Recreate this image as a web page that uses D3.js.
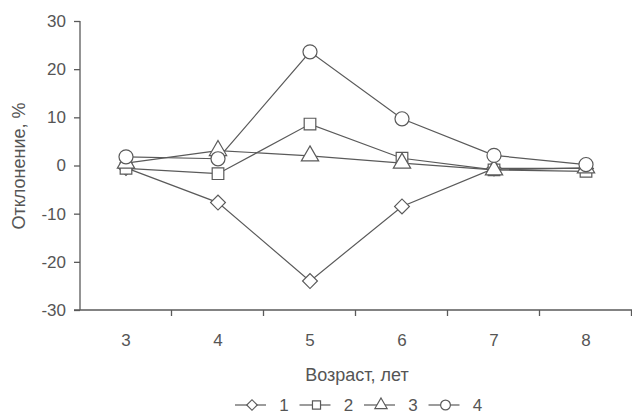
<!DOCTYPE html>
<html>
<head>
<meta charset="utf-8">
<script src="https://cdn.jsdelivr.net/npm/d3@7/dist/d3.min.js"></script>
<style>
  body { margin: 0; background: #fff; }
  svg text { font-family: "Liberation Sans", Arial, sans-serif; fill: #555; }
</style>
</head>
<body>
<div id="chart"></div>
<script>
var ages = ["3", "4", "5", "6", "7", "8"];
var yTicks = [-30, -20, -10, 0, 10, 20, 30];
var series1 = [-0.5, -7.7, -24.0, -8.5, -0.6, -0.6];
var series2 = [-0.6, -1.7, 8.6, 1.5, -0.9, -1.2];
var series3 = [0.5, 3.1, 2.0, 0.5, -0.9, -0.5];
var series4 = [1.8, 1.4, 23.6, 9.7, 2.1, 0.2];
var seriesNames = ["1", "2", "3", "4"];
// diamond = square turned 45 degrees
var symbols = [d3.symbolSquare, d3.symbolSquare, d3.symbolTriangle, d3.symbolCircle];
var turns = [45, 0, 0, 0];

var w = 632, h = 418;
var plotL = 80, plotR = 632, plotT = 21, plotB = 310;
var col = "#5a5a5a";

var svg = d3.select("#chart").append("svg")
    .attr("width", w)
    .attr("height", h);

var x = d3.scaleBand().domain(ages).range([plotL, plotR]);
var y = d3.scaleLinear().domain([-30, 30]).range([plotB, plotT]);

// y axis
var yAxis = svg.append("g")
    .attr("transform", "translate(" + plotL + ",0)")
    .call(d3.axisLeft(y).tickValues(yTicks).tickSize(6).tickPadding(8)
      .tickFormat(function(d) { return String(d); }));
yAxis.selectAll("text").style("font-size", "17px");

// x axis, ticks on band edges
var xAxis = svg.append("g")
    .attr("transform", "translate(0," + plotB + ")")
    .call(d3.axisBottom(x).tickSize(0).tickPadding(24));
xAxis.selectAll("text").style("font-size", "17px");
var edges = ages.map(function(a) { return x(a); }).concat([plotR]);
xAxis.selectAll("line.edge")
    .data(edges.slice(1))
    .enter().append("line")
    .attr("class", "edge")
    .attr("x1", function(d) { return d - 0.5; })
    .attr("x2", function(d) { return d - 0.5; })
    .attr("y1", 0).attr("y2", 6);

svg.selectAll(".domain, .tick line, line.edge")
    .attr("stroke", col)
    .attr("stroke-width", 1.3);
svg.selectAll(".domain").attr("d", null);
yAxis.append("line").attr("x1", 0).attr("x2", 0).attr("y1", plotT).attr("y2", plotB)
    .attr("stroke", col).attr("stroke-width", 1.3);
xAxis.append("line").attr("x1", plotL - 6).attr("x2", plotR).attr("y1", 0).attr("y2", 0)
    .attr("stroke", col).attr("stroke-width", 1.3);

// titles
svg.append("text")
    .attr("transform", "translate(25,166) rotate(-90)")
    .attr("text-anchor", "middle")
    .style("font-size", "18px")
    .text("Отклонение, %");
svg.append("text")
    .attr("x", 357).attr("y", 381)
    .attr("text-anchor", "middle")
    .style("font-size", "18px")
    .text("Возраст, лет");

// lines + markers
var allSeries = [series1, series2, series3, series4];
var sizes = [110, 135, 130, 155];
var line = d3.line()
    .x(function(d, i) { return x(ages[i]) + x.bandwidth() / 2; })
    .y(function(d) { return y(d); });

allSeries.forEach(function(s, k) {
  svg.append("path")
      .attr("d", line(s))
      .attr("fill", "none")
      .attr("stroke", col)
      .attr("stroke-width", 1.2);
});
allSeries.forEach(function(s, k) {
  svg.selectAll("path.m" + k)
      .data(s)
      .enter().append("path")
      .attr("class", "m" + k)
      .attr("d", d3.symbol().type(symbols[k]).size(sizes[k]))
      .attr("transform", function(d, i) {
        return "translate(" + (x(ages[i]) + x.bandwidth() / 2) + "," + y(d) + ") rotate(" + turns[k] + ")";
      })
      .attr("fill", "#fff")
      .attr("stroke", col)
      .attr("stroke-width", 1.2);
});

// legend
var legendSizes = [55, 65, 65, 75];
var legend = svg.append("g").attr("transform", "translate(235,405)");
var item = legend.selectAll("g")
    .data(seriesNames)
    .enter().append("g")
    .attr("transform", function(d, i) { return "translate(" + (i * 64.5) + ",0)"; });
item.append("line")
    .attr("x1", 0).attr("x2", 31)
    .attr("stroke", col).attr("stroke-width", 1.2);
item.append("path")
    .attr("d", function(d, i) { return d3.symbol().type(symbols[i]).size(legendSizes[i])(); })
    .attr("transform", function(d, i) { return "translate(17,0) rotate(" + turns[i] + ")"; })
    .attr("fill", "#fff")
    .attr("stroke", col)
    .attr("stroke-width", 1.2);
item.append("text")
    .attr("x", 49).attr("y", 6)
    .attr("text-anchor", "middle")
    .style("font-size", "17px")
    .text(function(d) { return d; });
</script>
</body>
</html>
